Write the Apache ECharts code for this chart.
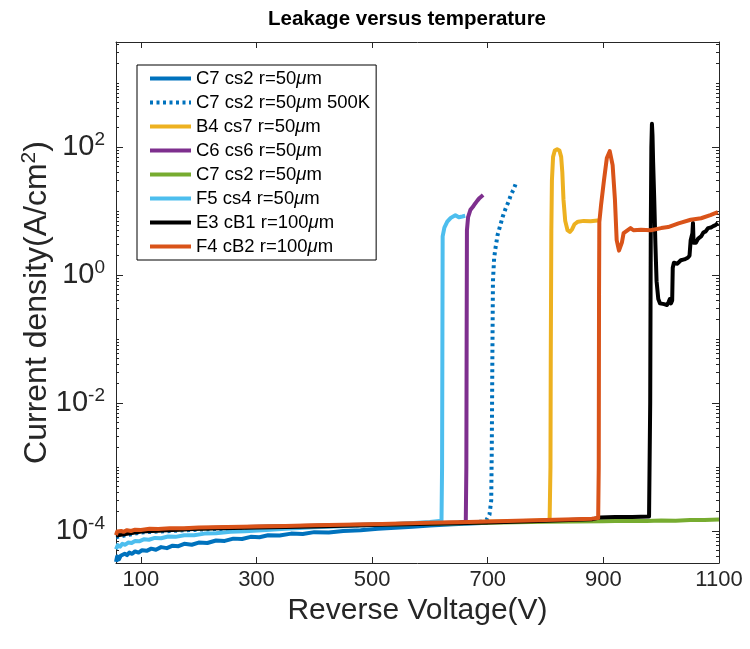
<!DOCTYPE html>
<html>
<head>
<meta charset="utf-8">
<script src="https://cdn.jsdelivr.net/npm/echarts@6/dist/echarts.min.js"></script>
<style>
html, body { margin: 0; padding: 0; background: #ffffff; }
#chart { width: 750px; height: 649px; }
</style>
</head>
<body>
<div id="chart"></div>
<script>
// Tick positions and labels
const xTickValues = [100, 300, 500, 700, 900, 1100];
const yTickValues = [1e-4, 1e-2, 1, 1e2];

// Leakage current density (A/cm^2) against reverse voltage (V), one array per device
const c7cs2 = [[57,3.3e-5],[59,4.0e-5],[62,3.6e-5],[65,4.1e-5],[68,3.9e-5],[72,4.4e-5],[76,4.2e-5],[80,4.6e-5],[85,4.4e-5],[90,4.8e-5],[96,4.6e-5],[102,5.0e-5],[110,4.9e-5],[118,5.3e-5],[126,5.1e-5],[135,5.6e-5],[145,5.4e-5],[155,5.9e-5],[165,5.8e-5],[175,6.3e-5],[188,6.1e-5],[200,6.6e-5],[215,6.5e-5],[230,7.1e-5],[245,7.0e-5],[260,7.6e-5],[275,7.5e-5],[290,8.1e-5],[305,8.0e-5],[320,8.6e-5],[340,8.5e-5],[360,9.1e-5],[380,9.0e-5],[400,9.6e-5],[425,9.5e-5],[450,1.0e-4],[480,1.03e-4],[510,1.08e-4],[540,1.12e-4],[570,1.17e-4],[600,1.22e-4],[640,1.27e-4],[680,1.32e-4],[700,1.35e-4]];
const c7cs2Hot = [[57,8.0e-5],[100,9.5e-5],[200,1.05e-4],[300,1.12e-4],[400,1.18e-4],[500,1.24e-4],[600,1.3e-4],[660,1.34e-4],[690,1.4e-4],[698,1.5e-4],[703,1.8e-4],[706,3.0e-4],[707,2e-3],[708,0.05],[709,0.8],[711,1.8],[713,2.5],[717,4.2],[722,6.1],[726,8.2],[731,11],[736,14],[740,17.8],[745,22],[748,26]];
const b4cs7 = [[57,8.8e-5],[100,1.0e-4],[200,1.1e-4],[300,1.16e-4],[400,1.21e-4],[500,1.26e-4],[600,1.32e-4],[700,1.39e-4],[780,1.45e-4],[807,1.48e-4],[808.5,1e-3],[809,0.05],[810,5],[811,30],[813,70],[816,88],[820,92],[824,88],[827,70],[829,40],[831,15],[834,7],[838,5],[842,4.7],[846,5.2],[850,6.2],[856,6.8],[866,7.0],[878,6.9],[890,7.1],[895,7.2]];
const c6cs6 = [[57,8.8e-5],[100,1.0e-4],[200,1.1e-4],[300,1.16e-4],[400,1.21e-4],[500,1.26e-4],[600,1.32e-4],[650,1.36e-4],[662,1.4e-4],[663,1e-3],[663.5,0.1],[664,5],[666,8],[670,10.4],[674,11.5],[678,13],[682,14.5],[686,16],[689,17],[692,17.8]];
const c7cs2b = [[57,8.8e-5],[100,1.0e-4],[200,1.09e-4],[300,1.15e-4],[400,1.2e-4],[500,1.25e-4],[600,1.3e-4],[700,1.35e-4],[800,1.39e-4],[900,1.42e-4],[940,1.44e-4],[975,1.43e-4],[1000,1.46e-4],[1025,1.45e-4],[1050,1.48e-4],[1075,1.49e-4],[1100,1.51e-4]];
const f5cs4 = [[57,5.2e-5],[60,6.0e-5],[64,5.7e-5],[68,6.3e-5],[73,6.1e-5],[78,6.6e-5],[84,6.5e-5],[90,7.0e-5],[97,6.9e-5],[105,7.4e-5],[114,7.3e-5],[124,7.8e-5],[135,7.7e-5],[147,8.2e-5],[160,8.1e-5],[175,8.6e-5],[192,8.6e-5],[210,9.1e-5],[230,9.2e-5],[255,9.7e-5],[280,9.9e-5],[310,1.03e-4],[350,1.08e-4],[400,1.14e-4],[450,1.19e-4],[500,1.24e-4],[550,1.3e-4],[600,1.38e-4],[620,1.45e-4],[621,1e-3],[621.5,0.05],[622,4.0],[625,5.5],[630,6.8],[636,7.8],[644,8.6],[650,8.0],[656,8.2],[661,8.4]];
const e3cB1 = [[57,8.5e-5],[100,9.8e-5],[200,1.08e-4],[300,1.13e-4],[400,1.18e-4],[500,1.24e-4],[600,1.3e-4],[700,1.36e-4],[800,1.44e-4],[880,1.52e-4],[895,1.63e-4],[920,1.65e-4],[950,1.66e-4],[979,1.68e-4],[981,1e-2],[982,5],[983,100],[984,230],[985,150],[986,60],[988,15],[990,3],[992,0.8],[995,0.42],[998,0.36],[1005,0.35],[1010,0.34],[1013,0.38],[1015,0.42],[1017,0.36],[1019,0.4],[1020,1.3],[1022,1.55],[1028,1.5],[1034,1.7],[1040,1.75],[1046,1.86],[1049,2.0],[1051,3.5],[1054,4.5],[1055,6.5],[1056,3.2],[1060,3.2],[1064,3.7],[1069,4.0],[1073,4.6],[1077,4.8],[1081,5.4],[1086,5.5],[1090,5.8],[1094,6.0],[1098,6.5]];
const f4cB2 = [[57,8.6e-5],[59,9.8e-5],[62,9.2e-5],[66,1.0e-4],[70,9.7e-5],[76,1.03e-4],[83,1.0e-4],[90,1.05e-4],[100,1.04e-4],[115,1.08e-4],[130,1.07e-4],[150,1.1e-4],[175,1.1e-4],[200,1.13e-4],[250,1.15e-4],[300,1.18e-4],[350,1.2e-4],[400,1.23e-4],[450,1.25e-4],[500,1.28e-4],[550,1.31e-4],[600,1.34e-4],[650,1.37e-4],[700,1.41e-4],[750,1.44e-4],[800,1.48e-4],[850,1.52e-4],[880,1.56e-4],[891,1.6e-4],[892,1e-3],[892.5,0.5],[893,6.7],[896,12.4],[901,30],[906,67],[911,86],[916,52],[920,15],[923,3.5],[927,2.4],[932,3.2],[935,4.5],[947,5.4],[952,5.0],[965,5.1],[982,5.0],[1000,5.4],[1012,5.6],[1030,6.4],[1051,7.3],[1069,7.7],[1085,8.6],[1098,9.6]];

const seriesNames = ['C7 cs2 r=50μm', 'C7 cs2 r=50μm 500K', 'B4 cs7 r=50μm', 'C6 cs6 r=50μm', 'C7 cs2 r=50μm ', 'F5 cs4 r=50μm', 'E3 cB1 r=100μm', 'F4 cB2 r=100μm'];
const seriesData = [c7cs2, c7cs2Hot, b4cs7, c6cs6, c7cs2b, f5cs4, e3cB1, f4cB2];
const seriesColors = ['#0072BD', '#0072BD', '#EDB120', '#7E2F8E', '#77AC30', '#4DBEEE', '#000000', '#D95319'];
const seriesDash = ['solid', [3, 3.5], 'solid', 'solid', 'solid', 'solid', 'solid', 'solid'];

const X_MIN = 57, X_MAX = 1100;
const Y_MIN = Math.pow(10, -4.5), Y_MAX = Math.pow(10, 3.64);

// Log minor ticks: 2..9 in every decade plus the unlabelled decades
const yMinorValues = [];
for (let e = -5; e <= 3; e++) {
  for (let k = 1; k <= 9; k++) {
    if (k === 1 && e % 2 === 0) continue;
    const v = k * Math.pow(10, e);
    if (v > Y_MIN && v < Y_MAX) yMinorValues.push(v);
  }
}

const FONT = 'Liberation Sans, Arial, Helvetica, sans-serif';
const AX = '#262626';

function legendText(name) {
  const parts = name.trim().split('μ');
  return parts[0] + '{mu|μ}' + parts[1];
}

function yLabel(v) {
  const e = Math.round(Math.log10(v));
  return '{b|10}{s|' + e + '}';
}

function xAxisDef(pos, withLabels) {
  return {
    type: 'value', position: pos, min: X_MIN, max: X_MAX,
    axisLine: { show: true, onZero: false, lineStyle: { color: AX, width: 1 } },
    axisTick: { show: true, inside: true, length: 6, customValues: xTickValues, lineStyle: { color: AX } },
    axisLabel: withLabels ? { show: true, customValues: xTickValues, formatter: v => String(v), fontSize: 22, color: AX, fontFamily: FONT, margin: 6 } : { show: false },
    splitLine: { show: false },
    name: withLabels ? 'Reverse Voltage(V)' : '',
    nameLocation: 'middle', nameGap: 25,
    nameTextStyle: { fontSize: 30, color: AX, fontFamily: FONT }
  };
}

function yAxisDef(pos, minor, withLabels) {
  return {
    type: 'log', logBase: 10, position: pos, min: Y_MIN, max: Y_MAX,
    axisLine: { show: !minor, onZero: false, lineStyle: { color: AX, width: 1 } },
    axisTick: { show: true, inside: true, length: minor ? 3 : 7, customValues: minor ? yMinorValues : yTickValues, lineStyle: { color: AX } },
    axisLabel: withLabels ? {
      show: true, customValues: yTickValues, formatter: yLabel, margin: 11,
      rich: {
        b: { fontSize: 29, color: AX, fontFamily: FONT },
        s: { fontSize: 19, color: AX, fontFamily: FONT, verticalAlign: 'top', padding: [0, 0, 14, 0] }
      }
    } : { show: false },
    splitLine: { show: false },
    name: withLabels ? 'Current density(A/cm{s|2})' : '',
    nameLocation: 'middle', nameGap: 60, nameRotate: 90,
    nameMoveOverlap: false,
    nameTextStyle: {
      fontSize: 32, color: AX, fontFamily: FONT,
      rich: { s: { fontSize: 21, color: AX, fontFamily: FONT, verticalAlign: 'top', padding: [0, 0, 16, 0] } }
    }
  };
}

const chart = echarts.init(document.getElementById('chart'), null, { renderer: 'canvas' });
chart.setOption({
  animation: false,
  backgroundColor: '#ffffff',
  title: {
    text: 'Leakage versus temperature',
    left: 402, top: 4, textAlign: 'center',
    textStyle: { fontSize: 20.5, fontWeight: 'bold', color: '#000', fontFamily: FONT }
  },
  grid: { left: 116, right: 31, top: 42, bottom: 86, containLabel: false },
  xAxis: [xAxisDef('bottom', true), xAxisDef('top', false)],
  yAxis: [yAxisDef('left', false, true), yAxisDef('right', false, false), yAxisDef('left', true, false), yAxisDef('right', true, false)],
  legend: {
    orient: 'vertical', left: 137, top: 65,
    padding: [4, 6, 4, 11], itemGap: 5, itemWidth: 41, itemHeight: 14,
    backgroundColor: '#ffffff', borderColor: '#000', borderWidth: 1, borderRadius: 0,
    data: seriesNames,
    formatter: legendText,
    selectedMode: false,
    itemStyle: { opacity: 0 },
    lineStyle: { width: 4 },
    textStyle: { fontSize: 18.5, lineHeight: 18, color: '#000', fontFamily: FONT, rich: { mu: { fontSize: 18.5, lineHeight: 18, fontStyle: 'italic', color: '#000', fontFamily: FONT } } }
  },
  series: seriesNames.map((name, i) => ({
    name: name,
    type: 'line',
    xAxisIndex: 0, yAxisIndex: 0,
    data: seriesData[i],
    symbol: 'none',
    showSymbol: false,
    smooth: false,
    color: seriesColors[i],
    lineStyle: { color: seriesColors[i], width: 4, type: seriesDash[i], cap: 'butt', join: 'round' },
    emphasis: { disabled: true }
  }))
});
</script>
</body>
</html>
